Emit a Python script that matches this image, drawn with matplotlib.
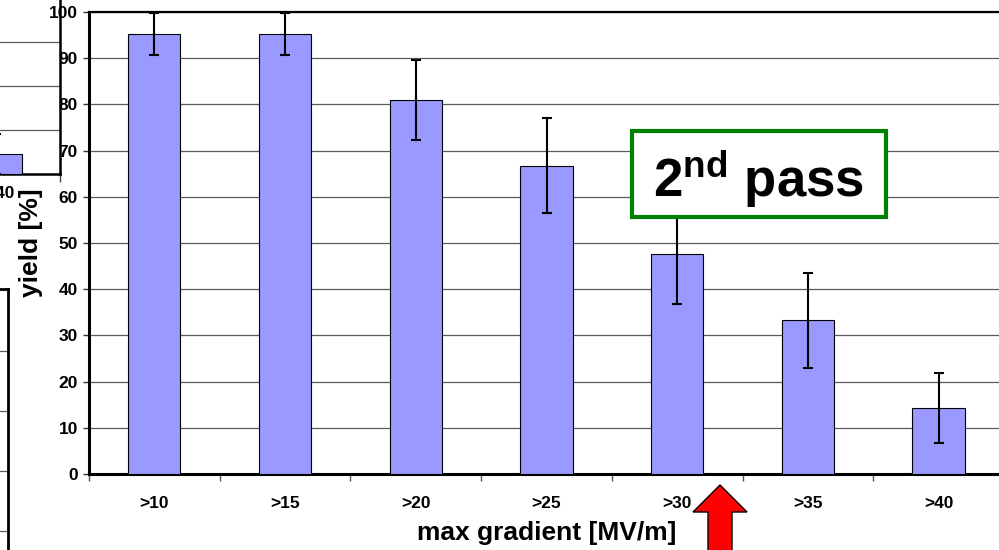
import matplotlib
matplotlib.use("Agg")
import matplotlib.pyplot as plt
from matplotlib.patches import Rectangle, FancyArrow
from matplotlib.ticker import MultipleLocator, FixedLocator

# ---- data ----
categories = [">10", ">15", ">20", ">25", ">30", ">35", ">40"]
yield_pct = [95.2, 95.2, 81.0, 66.7, 47.6, 33.3, 14.3]
yield_err = [4.6, 4.6, 8.6, 10.3, 10.9, 10.3, 7.6]
y_ticks = [0, 10, 20, 30, 40, 50, 60, 70, 80, 90, 100]
box_label = "2$^{\\rm nd}$ pass"
x_label = "max gradient [MV/m]"
y_label = "yield [%]"

# fragment of neighbouring chart (upper left)
frag_categories = [">40"]
frag_values = [4.5]
frag_err = [4.6]

plt.rcParams['font.family'] = ['Liberation Sans', 'DejaVu Sans']
plt.rcParams['font.weight'] = 'bold'
plt.rcParams['mathtext.fontset'] = 'custom'
plt.rcParams['mathtext.rm'] = 'Liberation Sans:bold'
plt.rcParams['mathtext.it'] = 'Liberation Sans:bold'
plt.rcParams['mathtext.bf'] = 'Liberation Sans:bold'

W, H = 999, 550
fig = plt.figure(figsize=(W / 100, H / 100), dpi=100)
fig.patch.set_facecolor('white')

BAR_COLOR = '#9999FF'
GRID_COLOR = '#5a5a5a'
TICK_FS = 12.5
LABEL_FS = 19


def fx(px):
    return px / W


def fy(py):
    return 1 - py / H


# ---- upper-left fragment of another chart ----
axf = fig.add_axes([fx(-40), fy(174), fx(100), 220 / H])
axf.set_xlim(-40, 60)
axf.set_ylim(0, 50)
axf.bar([-4], frag_values, width=52, color=BAR_COLOR, edgecolor='black', linewidth=0.8, zorder=3)
axf.errorbar([-4], frag_values, yerr=frag_err, fmt='none', ecolor='black', elinewidth=1.5,
             capsize=3.6, capthick=1.5, zorder=4)
axf.yaxis.set_major_locator(MultipleLocator(10))
axf.grid(axis='y', color=GRID_COLOR, linewidth=0.9, zorder=0)
axf.set_yticklabels([])
axf.tick_params(axis='y', length=0)
axf.set_xticks([0])
axf.set_xticklabels(frag_categories, fontsize=TICK_FS, fontweight='bold')
axf.tick_params(axis='x', length=0, pad=9)
axf.xaxis.set_minor_locator(FixedLocator([60]))
axf.tick_params(axis='x', which='minor', length=6, width=1, color='#444444')
for s in ['left', 'top']:
    axf.spines[s].set_visible(False)
for s in ['right', 'bottom']:
    axf.spines[s].set_linewidth(1.8)
axf.set_facecolor('none')

# ---- lower-left fragment of another chart ----
axl = fig.add_axes([fx(-200), fy(591), fx(208), 302 / H])
axl.set_xlim(0, 1)
axl.set_ylim(0, 5.033)
axl.yaxis.set_major_locator(FixedLocator([1, 2, 3, 4]))
axl.grid(axis='y', color=GRID_COLOR, linewidth=0.9)
axl.set_xticks([])
axl.set_yticklabels([])
axl.tick_params(axis='y', length=0)
axl.spines['left'].set_visible(False)
axl.spines['bottom'].set_visible(False)
axl.spines['right'].set_linewidth(2.0)
axl.spines['top'].set_linewidth(2.0)
axl.set_facecolor('none')

# ---- main chart ----
ax = fig.add_axes([fx(89), fy(474), fx(1004 - 89), (474 - 12) / H])
x = list(range(len(categories)))
ax.bar(x, yield_pct, width=0.4, color=BAR_COLOR, edgecolor='black', linewidth=0.8, zorder=3)
ax.errorbar(x, yield_pct, yerr=yield_err, fmt='none', ecolor='black', elinewidth=1.5,
            capsize=3.6, capthick=1.5, zorder=4)
ax.set_xlim(-0.5, len(categories) - 0.5)
ax.set_ylim(0, 100)
ax.set_yticks(y_ticks)
ax.set_yticklabels([str(v) for v in y_ticks], fontsize=TICK_FS, fontweight='bold')
ax.grid(axis='y', color=GRID_COLOR, linewidth=0.9, zorder=0)
ax.set_axisbelow(True)
ax.tick_params(axis='y', length=4, width=1, pad=4, color='#333333')
ax.set_xticks(x)
ax.set_xticklabels(categories, fontsize=TICK_FS, fontweight='bold')
ax.tick_params(axis='x', which='major', length=0, pad=16)
ax.xaxis.set_minor_locator(FixedLocator([i + 0.5 for i in range(-1, len(categories))]))
ax.tick_params(axis='x', which='minor', length=5, width=1, color='#555555')
ax.spines['left'].set_linewidth(2.2)
ax.spines['bottom'].set_linewidth(2.2)
ax.spines['top'].set_linewidth(1.6)
ax.spines['right'].set_visible(False)
ax.set_xlabel(x_label, fontsize=LABEL_FS, fontweight='bold')
ax.xaxis.set_label_coords(0.5, (474 - 521) / 462)
ax.set_ylabel(y_label, fontsize=LABEL_FS, fontweight='bold')
ax.yaxis.set_label_coords(-(89 - 43) / 915, 0.5)
ax.set_facecolor('none')

# ---- "2nd pass" box ----
box = Rectangle((fx(632), fy(217)), fx(886 - 632), (217 - 131) / H, transform=fig.transFigure,
                facecolor='white', edgecolor='#008000', linewidth=3.0, zorder=10)
fig.patches.append(box)
fig.text(fx(759), fy(197), box_label, fontsize=38, fontweight='bold', ha='center',
         va='baseline', color='black', zorder=11)

# ---- red arrow ----
arrow = FancyArrow(7.20, -0.10, 0, 0.75, width=0.24, head_width=0.54, head_length=0.27,
                   length_includes_head=True, transform=fig.dpi_scale_trans,
                   facecolor='#FF0000', edgecolor='black', linewidth=1.0, zorder=12)
fig.patches.append(arrow)

fig.savefig("out.png", dpi=100)
